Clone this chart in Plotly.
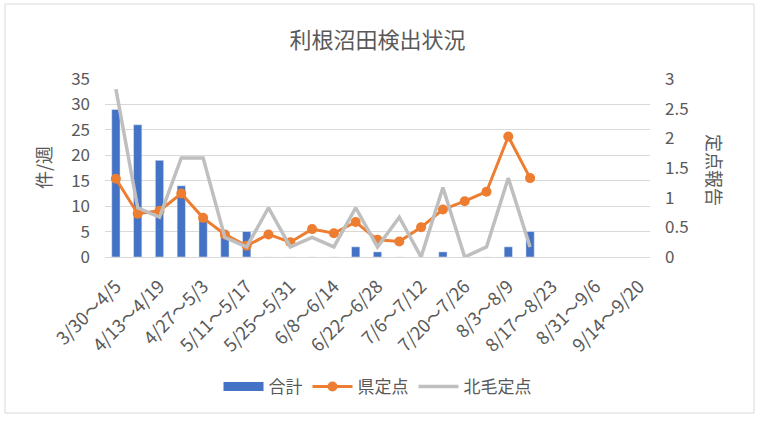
import plotly.graph_objects as go

# weekly categories
weeks = [
    "3/30～4/5", "4/6～4/12", "4/13～4/19", "4/20～4/26", "4/27～5/3",
    "5/4～5/10", "5/11～5/17", "5/18～5/24", "5/25～5/31", "6/1～6/7",
    "6/8～6/14", "6/15～6/21", "6/22～6/28", "6/29～7/5", "7/6～7/12",
    "7/13～7/19", "7/20～7/26", "7/27～8/2", "8/3～8/9", "8/10～8/16",
    "8/17～8/23", "8/24～8/30", "8/31～9/6", "9/7～9/13", "9/14～9/20",
]

# 合計 (件/週)
total = [29, 26, 19, 14, 8, 4, 5, 0, 0, 0, 0, 2, 1, 0, 0, 1, 0, 0, 2, 5]

# 県定点 (定点報告)
pref_sentinel = [1.32, 0.73, 0.78, 1.07, 0.66, 0.38, 0.19, 0.38, 0.25, 0.47,
                 0.40, 0.59, 0.29, 0.26, 0.50, 0.80, 0.94, 1.10, 2.03, 1.33]

# 北毛定点 (定点報告)
hokumo_sentinel = [2.83, 0.83, 0.67, 1.67, 1.67, 0.33, 0.17, 0.83, 0.17, 0.33,
                   0.17, 0.83, 0.17, 0.67, 0.0, 1.17, 0.0, 0.17, 1.33, 0.17]

tick_weeks = weeks[::2]

font_family = "Noto Sans CJK JP"
grey_text = "#595959"
blue = "#4472C4"

# plot area in pixels (Excel layout)
W, H = 760, 421
L, R, T, B = 105, 110, 79, 164
pw, ph = W - L - R, H - T - B

fig = go.Figure()

fig.add_trace(go.Bar(
    x=weeks[:len(total)],
    y=total,
    name="合計",
    marker=dict(color=blue),
    width=0.38,
    showlegend=False,
    legendgroup="total",
))

# legend entry for the bars: wide rectangle like Excel
fig.add_trace(go.Scatter(
    x=[None], y=[None],
    name="合計",
    mode="lines",
    line=dict(color=blue, width=9),
    legendgroup="total",
))

fig.add_trace(go.Scatter(
    x=weeks[:len(pref_sentinel)],
    y=pref_sentinel,
    name="県定点",
    mode="lines+markers",
    line=dict(color="#ED7D31", width=3),
    marker=dict(color="#ED7D31", size=10),
    yaxis="y2",
))

fig.add_trace(go.Scatter(
    x=weeks[:len(hokumo_sentinel)],
    y=hokumo_sentinel,
    name="北毛定点",
    mode="lines",
    line=dict(color="#BFBFBF", width=3.5),
    yaxis="y2",
))

fig.update_layout(
    width=W,
    height=H,
    paper_bgcolor="white",
    plot_bgcolor="white",
    font=dict(family=font_family, size=16, color=grey_text),
    margin=dict(l=L, r=R, t=T, b=B, autoexpand=False),
    title=dict(
        text="利根沼田検出状況",
        x=(L + pw / 2) / W, xanchor="center",
        y=1 - 40 / H, yanchor="middle",
        font=dict(size=22, color=grey_text),
    ),
    showlegend=True,
    legend=dict(
        orientation="h",
        x=0.5, xanchor="center",
        y=-(387 - (T + ph)) / ph, yanchor="middle",
        font=dict(size=17, color=grey_text),
        itemwidth=40,
        tracegroupgap=0,
    ),
    xaxis=dict(
        type="category",
        categoryorder="array",
        categoryarray=weeks,
        range=[-0.5, len(weeks) - 0.5],
        tickmode="array",
        tickvals=tick_weeks,
        ticktext=tick_weeks,
        tickangle=-45,
        showgrid=False,
        showline=True,
        linecolor="#D9D9D9",
        ticks="",
        ticklabelstandoff=11,
        automargin=False,
        tickfont=dict(size=18, color=grey_text),
    ),
    yaxis=dict(
        range=[0, 35],
        dtick=5,
        showgrid=True,
        gridcolor="#D9D9D9",
        zeroline=False,
        ticks="",
        ticklabelstandoff=14,
        automargin=False,
        tickfont=dict(size=17, color=grey_text),
    ),
    yaxis2=dict(
        overlaying="y",
        side="right",
        range=[0, 3],
        dtick=0.5,
        showgrid=False,
        zeroline=False,
        ticks="",
        ticklabelstandoff=14,
        automargin=False,
        tickfont=dict(size=17, color=grey_text),
    ),
)

# axis titles
fig.add_annotation(
    text="件/週",
    xref="paper", yref="paper",
    x=(43 - L) / pw, y=0.5,
    xanchor="center", yanchor="middle",
    textangle=-90,
    showarrow=False,
    font=dict(size=18, color=grey_text),
)
fig.add_annotation(
    text="定点報告",
    xref="paper", yref="paper",
    x=(715 - L) / pw, y=(T + ph - 170) / ph,
    xanchor="center", yanchor="middle",
    textangle=90,
    showarrow=False,
    font=dict(size=18, color=grey_text),
)

# chart frame
fig.add_shape(
    type="rect",
    xref="paper", yref="paper",
    x0=(5 - L) / pw, x1=(754 - L) / pw,
    y0=(T + ph - 413) / ph, y1=(T + ph - 4) / ph,
    line=dict(color="#D9D9D9", width=1),
    fillcolor="rgba(0,0,0,0)",
)

# the page has a default body margin; drop it so the figure sits at 0,0
fig.write_html(
    "out.html",
    config={"displayModeBar": False},
    post_script="document.body.style.margin = '0';",
)
